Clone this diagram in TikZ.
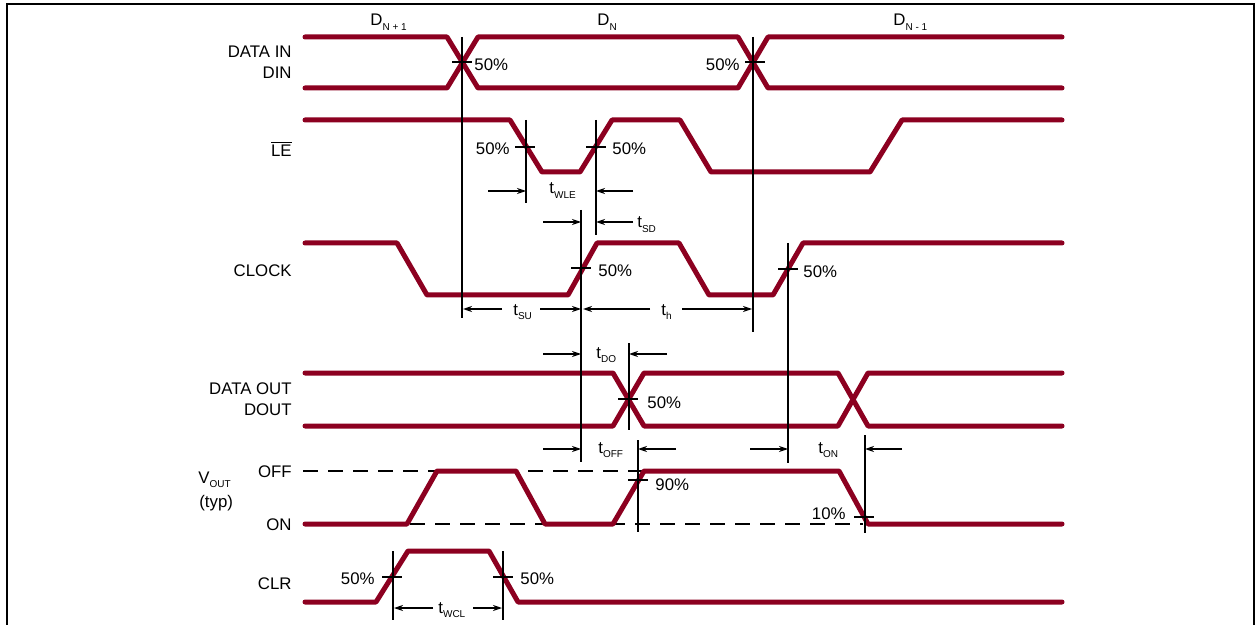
\documentclass[tikz,border=0pt]{standalone}
\usepackage{fontspec}
\setmainfont{Liberation Sans}
\usetikzlibrary{arrows.meta}

\definecolor{wavered}{RGB}{140,0,32}
\newcommand{\lowsub}[1]{\raisebox{-2.2pt}{\fontsize{5}{6}\selectfont #1}}

\tikzset{
  wave/.style={draw=wavered, line width=2.5pt, line cap=round, line join=round},
  guide/.style={line width=0.6pt},
  tick/.style={line width=0.6pt},
  dim/.style={line width=0.6pt, -{Stealth[length=4.5pt,width=3pt]}},
  level/.style={line width=0.9pt, dash pattern=on 7.5pt off 5pt},
  txt/.style={inner sep=0pt, font=\fontsize{8.4}{10}\selectfont}
}

\begin{document}
\begin{tikzpicture}[x=0.5pt, y=-0.5pt]
    \useasboundingbox (0,0) rectangle (1256,625);
    \draw[line width=1pt] (7,625) -- (7,4) -- (1254,4) -- (1254,625);

    % signal names
    \foreach \t/\y/\nm in {DATA IN/58/din, DIN/79/dinb, {$\overline{\mbox{LE}}$}/157/le,
      CLOCK/277/clk, DATA OUT/394/dout, DOUT/415/doutb, OFF/477/off, ON/530/on, CLR/589/clr}
    {
      \node[txt, anchor=base east] (\nm) at (292,\y) {\t};
    }
    \node[txt, anchor=base west] (vout) at (198,483) {V\lowsub{OUT}};
    \node[txt, anchor=base west] (typ) at (199,507) {(typ)};

    % data words
    \node[txt, anchor=base west] (dn1) at (370,26) {D\lowsub{N + 1}};
    \node[txt, anchor=base west] (dn) at (597,26) {D\lowsub{N}};
    \node[txt, anchor=base west] (dn0) at (893,26) {D\lowsub{N - 1}};

    % waveforms
    \draw[wave] (305,37) -- (447,37) -- (478,88) -- (738,88) -- (768,37) -- (1062,37);
    \draw[wave] (305,88) -- (447,88) -- (478,37) -- (738,37) -- (768,88) -- (1062,88);
    \draw[wave] (305,120) -- (510,120) -- (542,172) -- (580,172) -- (612,120) -- (680,120)
      -- (711,172) -- (870,172) -- (902,120) -- (1062,120);
    \draw[wave] (305,243) -- (397,243) -- (427,295) -- (568,295) -- (597,243) -- (679,243)
      -- (709,295) -- (773,295) -- (803,243) -- (1062,243);
    \draw[wave] (305,373) -- (613,373) -- (644,426) -- (838,426) -- (868,373) -- (1062,373);
    \draw[wave] (305,426) -- (613,426) -- (644,373) -- (838,373) -- (868,426) -- (1062,426);
    \draw[level] (303,471) -- (644,471);
    \draw[level] (410,524) -- (863,524);
    \draw[wave] (305,524) -- (407,524) -- (437,471) -- (516,471) -- (545,524) -- (613,524)
      -- (644,471) -- (839,471) -- (868,524) -- (1062,524);
    \draw[wave] (305,602) -- (376,602) -- (408,551) -- (489,551) -- (518,602) -- (1062,602);

    % reference lines
    \foreach \x/\a/\b in {462/37/318, 753/37/332, 526/120/203, 596/120/235, 581/210/462,
      788/243/463, 629/343/430, 638/440/532, 865/435/533, 393/551/620, 503/551/620}
    {
      \draw[guide] (\x,\a) -- (\x,\b);
    }
    \foreach \x/\y in {462/62, 755/62, 525/147, 596/147, 581/268, 788/269, 628/399,
      638/480, 864/517, 392/577, 503/577}
    {
      \draw[tick] (\x-10,\y) -- (\x+10,\y);
    }

    % levels
    \foreach \t/\x/\y/\a/\nm in {50\%/474/71/west/pa, 50\%/740/71/east/pb, 50\%/510/155/east/pc,
      50\%/612/155/west/pd, 50\%/598/277/west/pe, 50\%/803/278/west/pf, 50\%/647/408/west/pg,
      90\%/655/490/west/ph, 10\%/846/519/east/pi, 50\%/375/584/east/pj, 50\%/520/584/west/pk}
    {
      \node[txt, anchor=base \a] (\nm) at (\x,\y) {\t};
    }

    % timing arrows
    \foreach \a/\b/\y in {488/526/191, 633/596/191, 543/581/222, 633/596/222,
      502/463/309, 540/581/309, 650/583/309, 682/752/309, 543/581/354, 667/629/354,
      543/581/449, 676/638/449, 750/788/449, 902/865/449, 433/394/608, 473/502/608}
    {
      \draw[dim] (\a,\y) -- (\b,\y);
    }
    \foreach \s/\x/\y/\nm in {WLE/549/194/twle, SD/637/228/tsd, SU/513/315/tsu, h/661/315/th,
      DO/596/358/tdo, OFF/598/453/toff, ON/818/453/ton, WCL/438/613/twcl}
    {
      \node[txt, anchor=base west] (\nm) at (\x,\y) {t\lowsub{\s}};
    }
\end{tikzpicture}
\end{document}
